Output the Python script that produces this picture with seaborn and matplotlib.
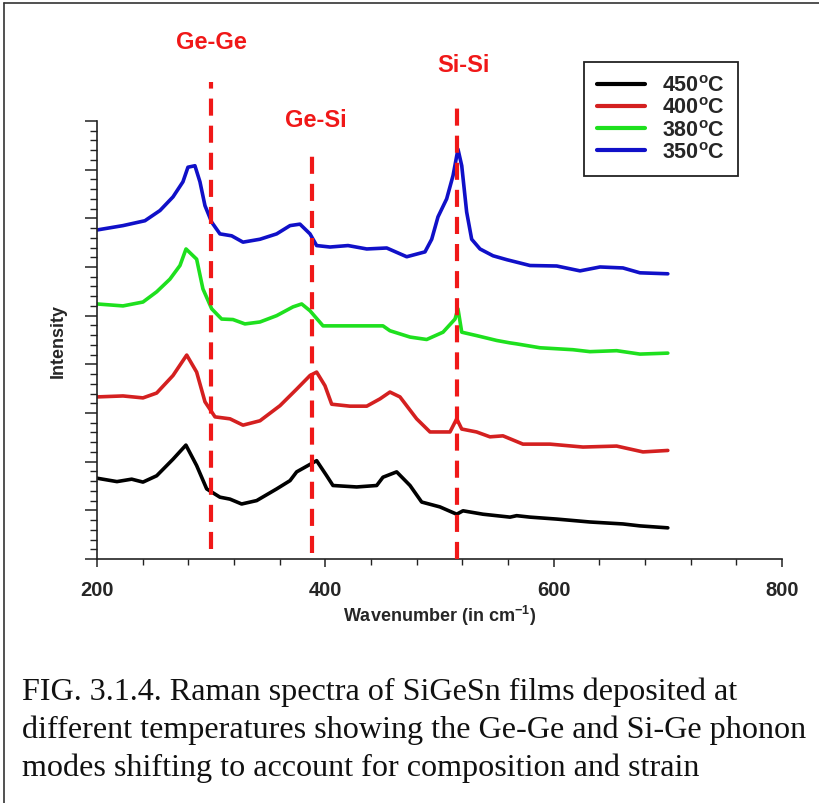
import matplotlib
matplotlib.use("Agg")
import matplotlib.pyplot as plt
import seaborn as sns
import pandas as pd
from matplotlib.lines import Line2D
from matplotlib.ticker import MultipleLocator, NullFormatter

# ---------------- data ----------------
temps = ["450\u00b0C", "400\u00b0C", "380\u00b0C", "350\u00b0C"]
legend_labels = [r"450$^{\mathbf{o}}$C", r"400$^{\mathbf{o}}$C", r"380$^{\mathbf{o}}$C", r"350$^{\mathbf{o}}$C"]
colors = ["#000000", "#d42020", "#1ee01e", "#1010c8"]

wn_450 = [200, 217.5, 230.4, 240.3, 252.3, 266.6, 277.9, 287.3, 296.1, 307.7, 316.5, 326.7, 339.9,
          357.4, 369.1, 374.9, 384.8, 392.4, 401.2, 406.7, 427.5, 445.0, 450.5, 462.5, 474.2, 484.4,
          500.4, 515.1, 520.6, 538.1, 561.8, 567.6, 579.3, 602.7, 631.8, 660.7, 675.6, 700]
int_450 = [1.66, 1.59, 1.64, 1.58, 1.71, 2.05, 2.34, 1.92, 1.44, 1.27, 1.23, 1.13, 1.20,
           1.44, 1.61, 1.79, 1.92, 2.02, 1.71, 1.51, 1.48, 1.51, 1.68, 1.79, 1.51, 1.17,
           1.07, 0.92, 0.99, 0.92, 0.86, 0.89, 0.86, 0.82, 0.76, 0.72, 0.68, 0.64]

wn_400 = [200, 222.8, 240.3, 252.3, 266.6, 278.6, 287.3, 294.6, 303.4, 316.5, 327.9, 342.8, 360.3,
          374.9, 386.6, 392.4, 399.7, 405.6, 421.6, 436.3, 447.9, 456.6, 465.4, 480.0, 491.7, 509.2,
          515.1, 519.5, 532.5, 544.2, 555.6, 561.8, 573.1, 596.8, 625.7, 655.2, 678.2, 700]
int_400 = [3.33, 3.35, 3.31, 3.41, 3.77, 4.19, 3.84, 3.23, 2.92, 2.88, 2.75, 2.84, 3.15,
           3.49, 3.77, 3.84, 3.56, 3.18, 3.14, 3.14, 3.29, 3.43, 3.33, 2.88, 2.61, 2.61,
           2.88, 2.67, 2.61, 2.51, 2.53, 2.47, 2.36, 2.36, 2.30, 2.32, 2.20, 2.23]

wn_380 = [200, 222.8, 240.3, 252.3, 263.9, 272.7, 278.0, 287.3, 292.8, 300.5, 309.2, 319.1, 329.6,
          342.8, 357.4, 371.7, 379.3, 386.6, 398.0, 421.6, 450.5, 456.6, 474.2, 488.8, 503.1, 513.6,
          516.2, 519.5, 532.5, 550.1, 561.8, 567.6, 588.0, 616.9, 631.8, 655.2, 675.6, 700]
int_380 = [5.24, 5.20, 5.28, 5.49, 5.75, 6.03, 6.37, 6.16, 5.55, 5.14, 4.93, 4.92, 4.83,
           4.87, 5.00, 5.18, 5.24, 5.10, 4.79, 4.79, 4.79, 4.69, 4.56, 4.51, 4.66, 4.93,
           5.14, 4.66, 4.59, 4.49, 4.44, 4.42, 4.34, 4.30, 4.26, 4.28, 4.21, 4.23]

wn_350 = [200, 222.8, 242.0, 255.2, 266.6, 275.3, 279.7, 285.8, 290.2, 294.6, 300.5, 307.7, 318.0,
          327.9, 342.8, 357.4, 369.1, 377.8, 386.6, 392.4, 404.1, 419.9, 436.3, 453.8, 471.3, 487.3,
          493.2, 498.7, 506.3, 511.9, 516.2, 519.5, 523.8, 528.2, 535.5, 546.9, 558.9, 579.3, 602.7,
          623.1, 640.6, 660.7, 675.6, 700]
int_350 = [6.76, 6.85, 6.95, 7.16, 7.44, 7.75, 8.05, 8.08, 7.75, 7.26, 6.92, 6.68, 6.64,
           6.51, 6.57, 6.68, 6.85, 6.88, 6.68, 6.44, 6.41, 6.44, 6.37, 6.39, 6.21, 6.31,
           6.57, 7.03, 7.40, 7.88, 8.42, 8.08, 7.13, 6.57, 6.37, 6.23, 6.15, 6.03, 6.02,
           5.92, 6.00, 5.98, 5.88, 5.86]

mode_names = ["Ge-Ge", "Ge-Si", "Si-Si"]
mode_pos = [300, 388, 515]
mode_top = [9.80, 8.38, 9.39]
mode_bottom = [0.20, 0.12, 0.0]
label_x = [300, 392, 521]
label_y = [10.64, 9.04, 10.15]

caption_lines = [
    "FIG. 3.1.4. Raman spectra of SiGeSn films deposited at",
    "different temperatures showing the Ge-Ge and Si-Ge phonon",
    "modes shifting to account for composition and strain",
]

# ---------------- build table ----------------
frames = []
for t, w, i in zip(temps, [wn_450, wn_400, wn_380, wn_350], [int_450, int_400, int_380, int_350]):
    frames.append(pd.DataFrame({"wavenumber": w, "intensity": i, "temp": t}))
df = pd.concat(frames, ignore_index=True)

# ---------------- style ----------------
sns.set_theme(style="white")
plt.rcParams["font.family"] = ["Liberation Sans", "DejaVu Sans"]
plt.rcParams["mathtext.fontset"] = "custom"
plt.rcParams["mathtext.rm"] = "Liberation Sans"
plt.rcParams["mathtext.bf"] = "Liberation Sans:bold"

fig = plt.figure(figsize=(8.19, 8.04), dpi=100)
fig.patch.set_facecolor("white")
ax = fig.add_axes([0.1184, 0.3035, 0.8364, 0.5448])

sns.lineplot(data=df, x="wavenumber", y="intensity", hue="temp", hue_order=temps,
             palette=dict(zip(temps, colors)), estimator=None, sort=False,
             linewidth=2.6, legend=False, ax=ax)

ax.set_xlim(200, 800)
ax.set_ylim(0, 9)

# axes styling
for s in ["top", "right"]:
    ax.spines[s].set_visible(False)
for s in ["left", "bottom"]:
    ax.spines[s].set_color("#222222")
    ax.spines[s].set_linewidth(1.2)

ax.xaxis.set_major_locator(MultipleLocator(200))
ax.xaxis.set_minor_locator(MultipleLocator(40))
ax.yaxis.set_major_locator(MultipleLocator(1))
ax.yaxis.set_minor_locator(MultipleLocator(0.2))
ax.yaxis.set_major_formatter(NullFormatter())
ax.tick_params(axis="x", which="major", direction="out", length=6, width=1.1,
               color="#222222", pad=9, labelsize=14.5, bottom=True)
ax.tick_params(axis="x", which="minor", direction="out", length=4.5, width=1.0,
               color="#222222", bottom=True)
ax.tick_params(axis="y", which="major", direction="out", length=8.5, width=1.1,
               color="#222222", left=True)
ax.tick_params(axis="y", which="minor", direction="out", length=5, width=1.0,
               color="#222222", left=True)
for lab in ax.get_xticklabels():
    lab.set_fontweight("bold")

ax.set_xlabel(r"Wavenumber (in cm$^{\mathbf{-1}}$)", fontsize=13, fontweight="bold", labelpad=3)
ax.set_ylabel("Intensity", fontsize=13, fontweight="bold", labelpad=10)

# phonon-mode markers
for name, xp, top, bot, lx, ly in zip(mode_names, mode_pos, mode_top, mode_bottom, label_x, label_y):
    ax.plot([xp, xp], [bot, top], color="#f01818", linewidth=3.0, dashes=(4.1, 2.4),
            clip_on=False, zorder=5)
    ax.text(lx, ly, name, color="#f01818", fontsize=17, fontweight="bold",
            ha="center", va="center", clip_on=False,
            family=["Liberation Sans Narrow", "Liberation Sans"])

# legend
handles = [Line2D([0], [0], color=c, linewidth=3) for c in colors]
leg = fig.legend(handles, legend_labels, loc="upper left", bbox_to_anchor=(0.713, 0.9216),
                 frameon=True, fancybox=False, edgecolor="#222222", framealpha=1,
                 prop={"weight": "bold", "size": 15.5}, handlelength=2.2, handletextpad=0.8,
                 labelspacing=0.05, borderpad=0.62, borderaxespad=0)
leg.get_frame().set_linewidth(1.3)

# caption
cap_y = [700, 738, 776]
for line, yy in zip(caption_lines, cap_y):
    fig.text(22 / 819, 1 - yy / 804, line, fontsize=23.1, va="baseline", ha="left",
             family=["Liberation Serif", "DejaVu Serif"], color="#111111")

# outer border (top and left)
fig.add_artist(Line2D([4 / 819, 4 / 819], [0, 1 - 4 / 804], transform=fig.transFigure,
                      color="#333333", linewidth=1.2))
fig.add_artist(Line2D([4 / 819, 1], [1 - 4 / 804, 1 - 4 / 804], transform=fig.transFigure,
                      color="#333333", linewidth=1.2))

fig.savefig("out.png", dpi=100)
